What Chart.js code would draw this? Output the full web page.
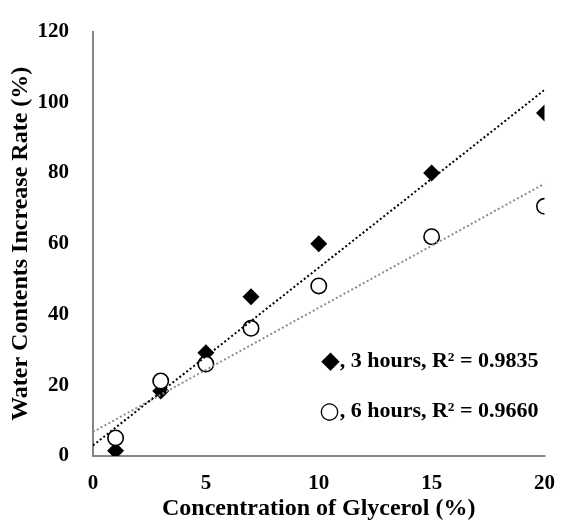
<!DOCTYPE html>
<html>
<head>
<meta charset="utf-8">
<script src="https://cdn.jsdelivr.net/npm/chart.js@4.4.1/dist/chart.umd.min.js"></script>
<style>
  html, body { margin: 0; padding: 0; background: #ffffff; }
  #wrap { width: 565px; height: 523px; }
</style>
</head>
<body>
<div id="wrap"><canvas id="c" width="565" height="523"></canvas></div>
<script>
// ---- data ----
const concentration = [1, 3, 5, 7, 10, 15, 20];
const hours3 = [1.5, 18.4, 29.2, 45, 60, 80, 97];
const hours6 = [5.1, 21.2, 26, 36.1, 48.1, 62, 70.6];
// trendline endpoints as drawn in the reference (x = 0 and x = 20)
const trendX = [0, 20];
const trend3 = [3, 103.5];
const trend6 = [6.8, 77];
const legendSymbols = ['\u25C6', '\u25CB'];
const legendTexts = [', 3 hours, R\u00B2 = 0.9835', ', 6 hours, R\u00B2 = 0.9660'];
const xTitle = 'Concentration of Glycerol (%)';
const yTitle = 'Water Contents Increase Rate (%)';

const toPts = (xs, ys) => xs.map((x, i) => ({ x: x, y: ys[i] }));

const FONT = '"Liberation Serif", "Times New Roman", serif';
const AXIS = '#868686';

const textPlugin = {
  id: 'textLegend',
  afterDraw(chart) {
    const ctx = chart.ctx;
    const xs = chart.scales.x;
    const right = xs.right - 6;
    const ys = [361, 411];
    const symSizes = [24, 23];
    ctx.save();
    ctx.fillStyle = '#000';
    ctx.textBaseline = 'middle';
    ctx.textAlign = 'right';
    for (let i = 0; i < legendTexts.length; i++) {
      ctx.font = 'bold 22px ' + FONT;
      const w = ctx.measureText(legendTexts[i]).width;
      ctx.fillText(legendTexts[i], right, ys[i]);
      ctx.font = symSizes[i] + 'px "DejaVu Sans"';
      ctx.fillText(legendSymbols[i], right - w, ys[i] + 1);
    }
    ctx.restore();
  }
};

new Chart(document.getElementById('c'), {
  type: 'scatter',
  data: {
    datasets: [
      {
        label: 'trend 3h',
        data: toPts(trendX, trend3),
        showLine: true,
        borderColor: '#000000',
        borderWidth: 2,
        borderDash: [2, 2.4],
        pointRadius: 0,
        order: 0
      },
      {
        label: 'trend 6h',
        data: toPts(trendX, trend6),
        showLine: true,
        borderColor: '#8c8c8c',
        borderWidth: 2,
        borderDash: [2, 2.4],
        pointRadius: 0,
        order: 0
      },
      {
        label: '3 hours',
        data: toPts(concentration, hours3),
        pointStyle: 'rectRot',
        pointRadius: 8.5,
        backgroundColor: '#000000',
        borderColor: '#000000',
        borderWidth: 0,
        order: 2
      },
      {
        label: '6 hours',
        data: toPts(concentration, hours6),
        pointStyle: 'circle',
        pointRadius: 7.7,
        backgroundColor: '#ffffff',
        borderColor: '#000000',
        borderWidth: 1.6,
        order: 1
      }
    ]
  },
  options: {
    responsive: false,
    animation: false,
    devicePixelRatio: 1,
    layout: { padding: { top: 22, right: 12, left: 0, bottom: 0 } },
    plugins: {
      legend: { display: false },
      tooltip: { enabled: false },
      title: { display: false }
    },
    scales: {
      x: {
        type: 'linear',
        min: 0, max: 20,
        border: { color: AXIS, width: 2 },
        grid: { display: false, drawOnChartArea: false, drawTicks: true, tickLength: 5, color: AXIS, lineWidth: 1.5 },
        ticks: { stepSize: 5, color: '#000', padding: 10, font: { family: FONT, size: 21, weight: 'bold' }, maxRotation: 0 },
        title: { display: true, text: xTitle, color: '#000', font: { family: FONT, size: 24, weight: 'bold' }, padding: { top: 0, bottom: 0 } },
        afterFit(s) { s.height = 67; }
      },
      y: {
        type: 'linear',
        min: 0, max: 120,
        border: { color: AXIS, width: 2 },
        grid: { display: false, drawOnChartArea: false, drawTicks: true, tickLength: 5, color: AXIS, lineWidth: 1.5 },
        ticks: { stepSize: 20, color: '#000', padding: 19, font: { family: FONT, size: 21, weight: 'bold' } },
        title: { display: true, text: yTitle, color: '#000', font: { family: FONT, size: 24, weight: 'bold' }, padding: { top: 6, bottom: 0 } },
        afterFit(s) { s.width = 93; }
      }
    }
  },
  plugins: [textPlugin]
});
</script>
</body>
</html>
